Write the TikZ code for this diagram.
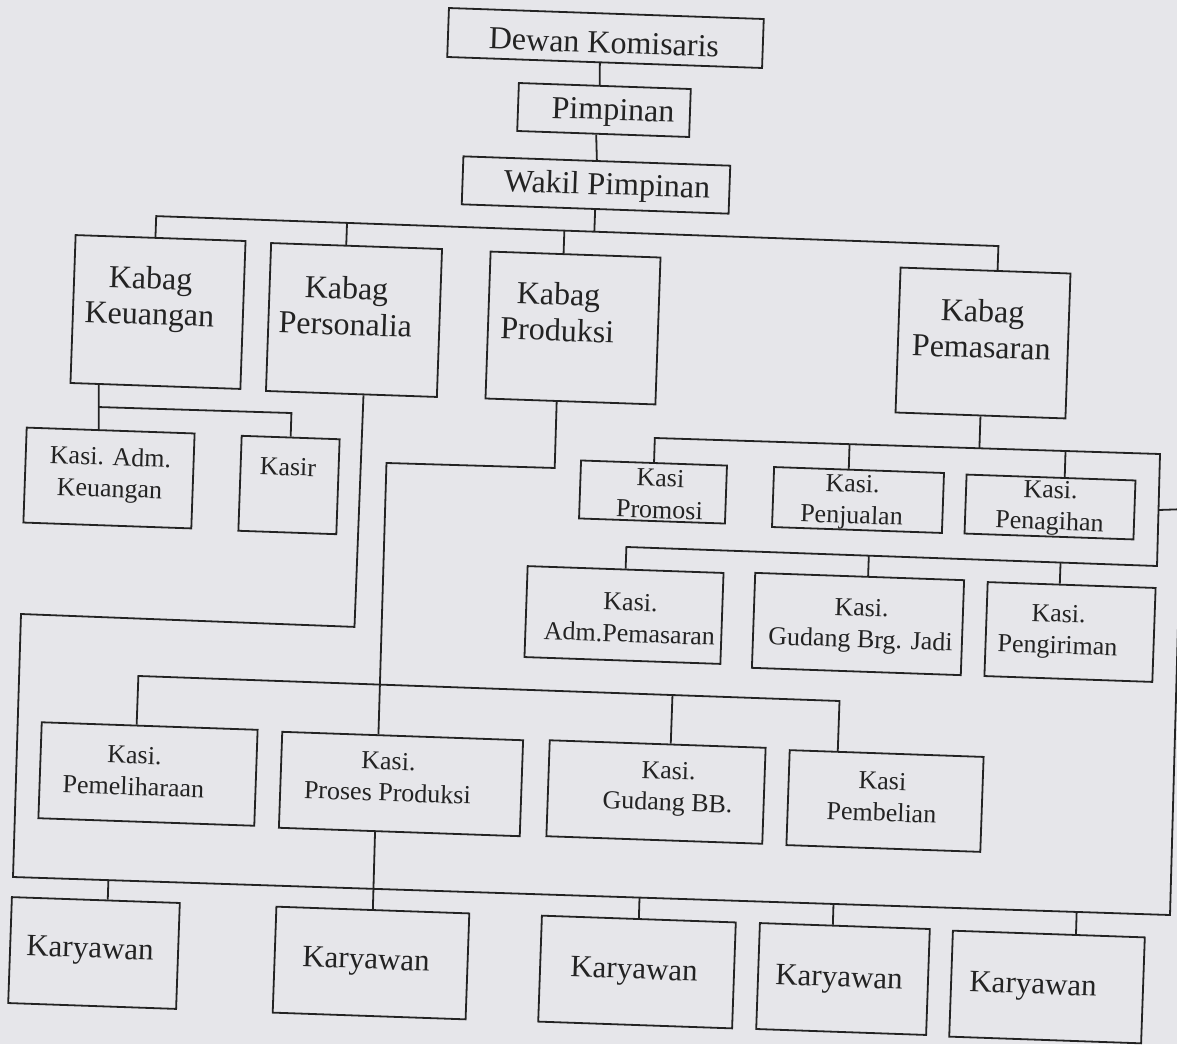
\documentclass[tikz,border=0pt]{standalone}
\usepackage{fontspec}
\setmainfont{Liberation Serif}
\usetikzlibrary{calc}
\definecolor{bg}{RGB}{230,230,234}
\definecolor{ink}{RGB}{35,35,35}
\begin{document}
\begin{tikzpicture}[x=0.5pt,y=-0.5pt,
  box/.style={draw=ink, line width=0.9pt, rotate=-2, inner sep=0pt},
  txt/.style={text=ink, rotate=-2, align=center, inner sep=0pt},
  big/.style={font=\fontsize{16}{18}\selectfont},
  kary/.style={font=\fontsize{15.5}{18}\selectfont},
  small/.style={font=\fontsize{13}{15.8}\selectfont},
  link/.style={draw=ink, line width=0.9pt},
]
\useasboundingbox (0,0) rectangle (1177,1044);
\clip (0,0) rectangle (1177,1044);
\fill[bg] (0,0) rectangle (1177,1044);

% ---------- boxes ----------
\node[box, minimum width=157.5pt, minimum height=24.5pt] (dk) at (605.5,38) {};
\node[box, minimum width=86pt, minimum height=24pt] (pp) at (604,110) {};
\node[box, minimum width=133.5pt, minimum height=24pt] (wp) at (596,185) {};

\node[box, minimum width=85pt, minimum height=74pt] (kk) at (158,312) {};
\node[box, minimum width=85.5pt, minimum height=74pt] (kpe) at (354,320) {};
\node[box, minimum width=85pt, minimum height=73.5pt] (kpr) at (573,328) {};
\node[box, minimum width=85pt, minimum height=72.5pt] (kpm) at (983,343) {};

\node[box, minimum width=84pt, minimum height=47.5pt] (kak) at (109,478) {};
\node[box, minimum width=49pt, minimum height=47.5pt] (ksr) at (289,485) {};

\node[box, minimum width=73pt, minimum height=29pt] (kpro) at (653,492) {};
\node[box, minimum width=85pt, minimum height=30pt] (kpj) at (858,500) {};
\node[box, minimum width=84.5pt, minimum height=29.5pt] (kpg) at (1050,507) {};

\node[box, minimum width=98pt, minimum height=45.5pt] (kap) at (624,615) {};
\node[box, minimum width=104.5pt, minimum height=47.5pt] (kgj) at (858,624) {};
\node[box, minimum width=84pt, minimum height=47pt] (kpn) at (1070,632) {};

\node[box, minimum width=108pt, minimum height=48pt] (kpl) at (148,774) {};
\node[box, minimum width=120.5pt, minimum height=48pt] (kpp) at (401,784) {};
\node[box, minimum width=108pt, minimum height=48pt] (kgb) at (656,792) {};
\node[box, minimum width=97pt, minimum height=47.5pt] (kpb) at (885,801) {};

\node[box, minimum width=84pt, minimum height=53pt] (ky1) at (94,953) {};
\node[box, minimum width=96.5pt, minimum height=53pt] (ky2) at (371,963) {};
\node[box, minimum width=97pt, minimum height=53pt] (ky3) at (637,972) {};
\node[box, minimum width=85pt, minimum height=53pt] (ky4) at (843,979) {};
\node[box, minimum width=96pt, minimum height=53pt] (ky5) at (1047,987) {};

% ---------- texts ----------
\node[txt,big] (dkt) at (604,42.5) {Dewan Komisaris};
\node[txt,big] (ppt) at (613,113) {Pimpinan};
\node[txt,big] (wpt) at (607,187) {Wakil Pimpinan};
\node[txt,big] (kkt) at (150,299) {Kabag\\Keuangan};
\node[txt,big] (kpet) at (346,306) {Kabag\\Personalia};
\node[txt,big] (kprt) at (558,312) {Kabag\\Produksi};
\node[txt,big] (kpmt) at (982,329) {Kabag\\Pemasaran};

\node[txt,small] (kakt) at (110,475) {Kasi. Adm.\\Keuangan};
\node[txt,small] (ksrt) at (288,467) {Kasir};
\node[txt,small] (kprot) at (660,494) {Kasi\\Promosi};
\node[txt,small] (kpjt) at (852,502) {Kasi.\\Penjualan};
\node[txt,small] (kpgt) at (1050,508) {Kasi.\\Penagihan};
\node[txt,small] (kapt) at (630,618) {Kasi.\\Adm.Pemasaran};
\node[txt,small] (kgjt) at (861,626) {Kasi.\\Gudang Brg. Jadi};
\node[txt,small] (kpnt) at (1058,632) {Kasi.\\Pengiriman};
\node[txt,small] (kplt) at (134,771) {Kasi.\\Pemeliharaan};
\node[txt,small] (kppt) at (388,777) {Kasi.\\Proses Produksi};
\node[txt,small] (kgbt) at (668,789) {Kasi.\\Gudang BB.};
\node[txt,small] (kpbt) at (882,797) {Kasi\\Pembelian};

\node[txt,kary] (ky1t) at (90,951) {Karyawan};
\node[txt,kary] (ky2t) at (366,962) {Karyawan};
\node[txt,kary] (ky3t) at (634,972) {Karyawan};
\node[txt,kary] (ky4t) at (839,980) {Karyawan};
\node[txt,kary] (ky5t) at (1033,987) {Karyawan};

% ---------- top chain ----------
\draw[link] ($(dk.south west)!0.485!(dk.south east)$) -- ($(pp.north west)!0.47!(pp.north east)$);
\draw[link] ($(pp.south west)!0.46!(pp.south east)$) -- ($(wp.north west)!0.50!(wp.north east)$);

% ---------- top bus ----------
\coordinate (T1) at (153,216);
\coordinate (T2) at (997,246);
\coordinate (wpB) at (wp.south);
\coordinate (kkT) at ($(kk.north west)!0.47!(kk.north east)$);
\coordinate (kpeT) at ($(kpe.north west)!0.44!(kpe.north east)$);
\coordinate (kprT) at ($(kpr.north west)!0.43!(kpr.north east)$);
\coordinate (kpmT) at ($(kpm.north west)!0.57!(kpm.north east)$);
\draw[link] (kkT) -- ($(T1)!(kkT)!(T2)$) -- ($(T1)!(kpmT)!(T2)$) -- (kpmT);
\draw[link] (wpB) -- ($(T1)!(wpB)!(T2)$);
\draw[link] (kpeT) -- ($(T1)!(kpeT)!(T2)$);
\draw[link] (kprT) -- ($(T1)!(kprT)!(T2)$);

% ---------- Keuangan ----------
\coordinate (kkB) at ($(kk.south west)!0.17!(kk.south east)$);
\coordinate (kakT) at ($(kak.north west)!0.43!(kak.north east)$);
\draw[link] (kkB) -- (kakT);
\coordinate (kb) at ($(kkB)!0.5!(kakT)$);
\coordinate (kb2) at (291,413);
\draw[link] (kb) -- ($(kb)!(ksr.north)!(kb2)$) -- (ksr.north);

% ---------- Personalia to Karyawan bus ----------
\coordinate (kpeB) at ($(kpe.south west)!0.57!(kpe.south east)$);
\coordinate (P1m) at (357,627);
\coordinate (P2) at (21,614);
\coordinate (Y1) at (13,877);
\coordinate (Y2) at (1170,915);
\coordinate (R0) at (1178,625);
\coordinate (R1) at (1188,509);
\draw[link] (kpeB) -- ($(P2)!(kpeB)!(P1m)$) -- (P2) -- (Y1) -- (Y2) -- (R0) -- (R1);

% ---------- Karyawan drops ----------
\coordinate (ky1T) at ($(ky1.north west)!0.57!(ky1.north east)$);
\coordinate (ky3T) at (ky3.north);
\coordinate (ky4T) at ($(ky4.north west)!0.43!(ky4.north east)$);
\coordinate (ky5T) at ($(ky5.north west)!0.64!(ky5.north east)$);
\draw[link] (ky1T) -- ($(Y1)!(ky1T)!(Y2)$);
\draw[link] (ky3T) -- ($(Y1)!(ky3T)!(Y2)$);
\draw[link] (ky4T) -- ($(Y1)!(ky4T)!(Y2)$);
\draw[link] (ky5T) -- ($(Y1)!(ky5T)!(Y2)$);

% ---------- Produksi ----------
\coordinate (kprB) at ($(kpr.south west)!0.42!(kpr.south east)$);
\coordinate (kppT) at ($(kpp.north west)!0.40!(kpp.north east)$);
\coordinate (Q1m) at (556,468);
\coordinate (Q2m) at (387,463);
\draw[link] (kprB) -- ($(Q2m)!(kprB)!(Q1m)$) -- ($(Q2m)!(kppT)!(Q1m)$) -- (kppT);

\coordinate (KP1) at (139,676);
\coordinate (KP2) at (839,701);
\coordinate (kplT) at ($(kpl.north west)!0.44!(kpl.north east)$);
\coordinate (kgbT) at ($(kgb.north west)!0.56!(kgb.north east)$);
\coordinate (kpbT) at ($(kpb.north west)!0.25!(kpb.north east)$);
\draw[link] (kplT) -- ($(KP1)!(kplT)!(KP2)$) -- ($(KP1)!(kpbT)!(KP2)$) -- (kpbT);
\draw[link] (kgbT) -- ($(KP1)!(kgbT)!(KP2)$);

\draw[link] ($(kpp.south west)!0.40!(kpp.south east)$) -- (ky2.north);

% ---------- Pemasaran ----------
\coordinate (M1a) at (655,438);
\coordinate (M1b) at (1160,454);
\coordinate (M2a) at (627,547);
\coordinate (M2b) at (1157,566);
\coordinate (kpmB) at (kpm.south);
\coordinate (kproT) at (kpro.north);
\coordinate (kpjT) at ($(kpj.north west)!0.44!(kpj.north east)$);
\coordinate (kpgT) at ($(kpg.north west)!0.58!(kpg.north east)$);
\coordinate (kapT) at (kap.north);
\coordinate (kgjT) at ($(kgj.north west)!0.54!(kgj.north east)$);
\coordinate (kpnT) at ($(kpn.north west)!0.43!(kpn.north east)$);
\draw[link] (kpmB) -- ($(M1a)!(kpmB)!(M1b)$);
\draw[link] (kproT) -- ($(M1a)!(kproT)!(M1b)$) -- (M1b) -- (M2b) -- ($(M2a)!(kapT)!(M2b)$) -- (kapT);
\draw[link] (kpjT) -- ($(M1a)!(kpjT)!(M1b)$);
\draw[link] (kpgT) -- ($(M1a)!(kpgT)!(M1b)$);
\draw[link] (kgjT) -- ($(M2a)!(kgjT)!(M2b)$);
\draw[link] (kpnT) -- ($(M2a)!(kpnT)!(M2b)$);
\draw[link] ($(M1b)!0.5!(M2b)$) -- (R1);
\end{tikzpicture}
\end{document}
